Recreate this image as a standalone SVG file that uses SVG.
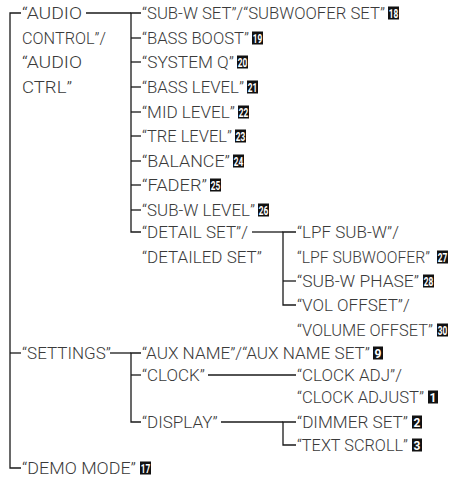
<svg xmlns="http://www.w3.org/2000/svg" width="467" height="483" viewBox="0 0 467 483">
<style>
text{font-family:Roboto,"Liberation Sans",sans-serif;font-size:17px;font-weight:300;fill:#3a3a3a}
.c line,.c path{stroke:#1a1a1a;stroke-width:1.3;fill:none}
.b rect{fill:#111}
.b text{font-family:Roboto,"Liberation Sans",sans-serif;font-size:12px;font-weight:700;fill:#fff;text-anchor:middle}
</style>
<rect width="467" height="483" fill="#fff"/>
<g class="c" id="connectors">
<path d="M21 13H10V468H21"/>
<line x1="10" y1="353" x2="21" y2="353"/>
<line x1="86" y1="13" x2="131" y2="13"/>
<path d="M141 13H131V232H141"/>
<line x1="131" y1="38" x2="141" y2="38"/>
<line x1="131" y1="62" x2="141" y2="62"/>
<line x1="131" y1="87" x2="141" y2="87"/>
<line x1="131" y1="112" x2="141" y2="112"/>
<line x1="131" y1="136" x2="141" y2="136"/>
<line x1="131" y1="161" x2="141" y2="161"/>
<line x1="131" y1="185" x2="141" y2="185"/>
<line x1="131" y1="210" x2="141" y2="210"/>
<line x1="252" y1="232" x2="283" y2="232"/>
<path d="M296 232H283V305H296"/>
<line x1="283" y1="281" x2="296" y2="281"/>
<line x1="110" y1="353" x2="131" y2="353"/>
<path d="M141 353H131V422H141"/>
<line x1="131" y1="375" x2="141" y2="375"/>
<line x1="208" y1="375" x2="296" y2="375"/>
<line x1="221" y1="422" x2="283" y2="422"/>
<path d="M296 422H283V445H296"/>
</g>
<g id="audio-control"><text x="22" y="19" textLength="60" lengthAdjust="spacingAndGlyphs">“AUDIO</text><text x="22" y="44" textLength="84" lengthAdjust="spacingAndGlyphs">CONTROL”/</text><text x="22" y="68" textLength="60" lengthAdjust="spacingAndGlyphs">“AUDIO</text><text x="22" y="93" textLength="50" lengthAdjust="spacingAndGlyphs">CTRL”</text></g>
<g id="sub-w-set"><text x="142" y="19" textLength="243" lengthAdjust="spacingAndGlyphs">“SUB-W SET”/“SUBWOOFER SET”</text><g class="b"><rect x="388" y="6.5" width="11" height="13"/><text x="393.5" y="17.5" textLength="9.5" lengthAdjust="spacingAndGlyphs">18</text></g></g>
<g id="bass-boost"><text x="142" y="44" textLength="107" lengthAdjust="spacingAndGlyphs">“BASS BOOST”</text><g class="b"><rect x="252" y="31.5" width="11" height="13"/><text x="257.5" y="42.5" textLength="9.5" lengthAdjust="spacingAndGlyphs">19</text></g></g>
<g id="system-q"><text x="142" y="68" textLength="92" lengthAdjust="spacingAndGlyphs">“SYSTEM Q”</text><g class="b"><rect x="237" y="55.5" width="11" height="13"/><text x="242.5" y="66.5" textLength="9.5" lengthAdjust="spacingAndGlyphs">20</text></g></g>
<g id="bass-level"><text x="142" y="93" textLength="102" lengthAdjust="spacingAndGlyphs">“BASS LEVEL”</text><g class="b"><rect x="247" y="80.5" width="11" height="13"/><text x="252.5" y="91.5" textLength="9.5" lengthAdjust="spacingAndGlyphs">21</text></g></g>
<g id="mid-level"><text x="142" y="118" textLength="93" lengthAdjust="spacingAndGlyphs">“MID LEVEL”</text><g class="b"><rect x="238" y="105.5" width="11" height="13"/><text x="243.5" y="116.5" textLength="9.5" lengthAdjust="spacingAndGlyphs">22</text></g></g>
<g id="tre-level"><text x="142" y="142" textLength="90" lengthAdjust="spacingAndGlyphs">“TRE LEVEL”</text><g class="b"><rect x="235" y="129.5" width="11" height="13"/><text x="240.5" y="140.5" textLength="9.5" lengthAdjust="spacingAndGlyphs">23</text></g></g>
<g id="balance"><text x="142" y="167" textLength="88" lengthAdjust="spacingAndGlyphs">“BALANCE”</text><g class="b"><rect x="233" y="154.5" width="11" height="13"/><text x="238.5" y="165.5" textLength="9.5" lengthAdjust="spacingAndGlyphs">24</text></g></g>
<g id="fader"><text x="142" y="191" textLength="65" lengthAdjust="spacingAndGlyphs">“FADER”</text><g class="b"><rect x="210" y="178.5" width="11" height="13"/><text x="215.5" y="189.5" textLength="9.5" lengthAdjust="spacingAndGlyphs">25</text></g></g>
<g id="sub-w-level"><text x="142" y="216" textLength="113" lengthAdjust="spacingAndGlyphs">“SUB-W LEVEL”</text><g class="b"><rect x="258" y="203.5" width="11" height="13"/><text x="263.5" y="214.5" textLength="9.5" lengthAdjust="spacingAndGlyphs">26</text></g></g>
<g id="detail-set"><text x="142" y="238" textLength="106" lengthAdjust="spacingAndGlyphs">“DETAIL SET”/</text><text x="142" y="263">“DETAILED SET”</text></g>
<g id="lpf"><text x="297" y="238">“LPF SUB-W”/</text><text x="297" y="263" style="font-size:16px" textLength="133" lengthAdjust="spacingAndGlyphs">“LPF SUBWOOFER”</text><g class="b"><rect x="437" y="250.5" width="11" height="13"/><text x="442.5" y="261.5" textLength="9.5" lengthAdjust="spacingAndGlyphs">27</text></g></g>
<g id="sub-w-phase"><text x="297" y="287" textLength="122" lengthAdjust="spacingAndGlyphs">“SUB-W PHASE”</text><g class="b"><rect x="423" y="274.5" width="11" height="13"/><text x="428.5" y="285.5" textLength="9.5" lengthAdjust="spacingAndGlyphs">28</text></g></g>
<g id="vol-offset"><text x="297" y="311">“VOL OFFSET”/</text><text x="297" y="336" style="font-size:16.5px" textLength="136" lengthAdjust="spacingAndGlyphs">“VOLUME OFFSET”</text><g class="b"><rect x="437" y="323.5" width="11" height="13"/><text x="442.5" y="334.5" textLength="9.5" lengthAdjust="spacingAndGlyphs">30</text></g></g>
<g id="settings"><text x="22" y="359">“SETTINGS”</text></g>
<g id="aux-name"><text x="142" y="359" textLength="228" lengthAdjust="spacingAndGlyphs">“AUX NAME”/“AUX NAME SET”</text><g class="b"><rect x="373" y="346.5" width="10" height="13"/><text x="378" y="357.5">9</text></g></g>
<g id="clock"><text x="142" y="381">“CLOCK”</text></g>
<g id="clock-adj"><text x="297" y="381">“CLOCK ADJ”/</text><text x="297" y="403" textLength="127" lengthAdjust="spacingAndGlyphs">“CLOCK ADJUST”</text><g class="b"><rect x="428" y="390.5" width="10" height="13"/><text x="433" y="401.5">1</text></g></g>
<g id="display"><text x="142" y="428">“DISPLAY”</text></g>
<g id="dimmer-set"><text x="297" y="428" textLength="111" lengthAdjust="spacingAndGlyphs">“DIMMER SET”</text><g class="b"><rect x="412" y="415.5" width="10" height="13"/><text x="417" y="426.5">2</text></g></g>
<g id="text-scroll"><text x="297" y="451" textLength="111" lengthAdjust="spacingAndGlyphs">“TEXT SCROLL”</text><g class="b"><rect x="412" y="438.5" width="10" height="13"/><text x="417" y="449.5">3</text></g></g>
<g id="demo-mode"><text x="22" y="474" textLength="114" lengthAdjust="spacingAndGlyphs">“DEMO MODE”</text><g class="b"><rect x="140" y="461.5" width="11" height="13"/><text x="145.5" y="472.5" textLength="9.5" lengthAdjust="spacingAndGlyphs">17</text></g></g>
</svg>
